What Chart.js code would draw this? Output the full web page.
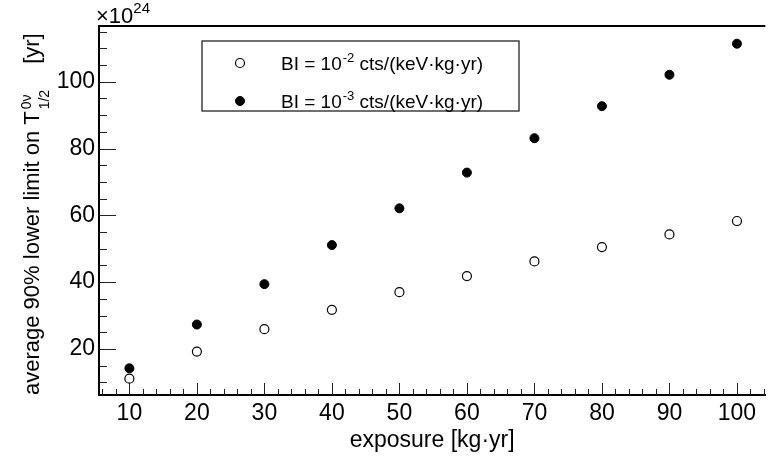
<!DOCTYPE html>
<html>
<head>
<meta charset="utf-8">
<script src="https://cdn.jsdelivr.net/npm/chart.js@4.4.0/dist/chart.umd.min.js"></script>
<style>
  html, body { margin: 0; padding: 0; background: #fff; }
  #wrap { width: 771px; height: 459px; }
</style>
</head>
<body>
<div id="wrap"><canvas id="limitChart" width="771" height="459"></canvas></div>
<script>
// exposure in kg·yr, limits in units of 1e24 yr
const exposure = [10, 20, 30, 40, 50, 60, 70, 80, 90, 100];
const limitBI2 = [11.1, 19.2, 25.9, 31.7, 37.0, 41.8, 46.2, 50.5, 54.3, 58.3];
const limitBI3 = [14.2, 27.3, 39.4, 51.1, 62.1, 72.8, 83.1, 92.7, 102.1, 111.4];
const bgExponents = ['-2', '-3'];
const xTickValues = [10, 20, 30, 40, 50, 60, 70, 80, 90, 100];
const yTickValues = [20, 40, 60, 80, 100];

const FONT = "'Liberation Sans', Arial, Helvetica, sans-serif";
const font = (size) => size + 'px ' + FONT;

function toPoints(ys) {
    return exposure.map((x, i) => ({ x: x, y: ys[i] }));
}

// ROOT-like frame: inward ticks and the top border line
const frameTicks = {
    id: 'frameTicks',
    afterDatasetsDraw(chart) {
        const ctx = chart.ctx;
        const ca = chart.chartArea;
        const xs = chart.scales.x;
        const ys = chart.scales.y;
        ctx.save();
        ctx.strokeStyle = '#222';
        ctx.lineWidth = 1;
        ctx.beginPath();
        for (let v = 6; v <= xs.max; v += 2) {
            const px = Math.round(xs.getPixelForValue(v)) + 0.5;
            const len = v % 10 === 0 ? 12 : 6;
            ctx.moveTo(px, ca.bottom);
            ctx.lineTo(px, ca.bottom - len);
        }
        for (let v = 10; v <= ys.max; v += 5) {
            const py = Math.round(ys.getPixelForValue(v)) + 0.5;
            const len = v % 20 === 0 ? 17 : 8;
            ctx.moveTo(ca.left, py);
            ctx.lineTo(ca.left + len, py);
        }
        ctx.stroke();

        ctx.strokeStyle = '#000';
        ctx.lineWidth = 2;
        ctx.beginPath();
        ctx.moveTo(ca.left - 1, ca.top);
        ctx.lineTo(ca.right, ca.top);
        ctx.stroke();
        ctx.restore();
    }
};

// axis titles, multiplier and legend box (these need super/subscripts)
const annotations = {
    id: 'annotations',
    afterDraw(chart) {
        const ctx = chart.ctx;
        const ca = chart.chartArea;
        ctx.save();
        ctx.fillStyle = '#000';
        ctx.textBaseline = 'alphabetic';

        // x title
        ctx.font = font(23);
        ctx.textAlign = 'center';
        ctx.fillText('exposure [kg\u00b7yr]', (ca.left + ca.right) / 2, 447);

        // multiplier
        ctx.textAlign = 'left';
        ctx.font = font(22);
        ctx.fillText('\u00d710', ca.left - 3, 23);
        const mw = ctx.measureText('\u00d710').width;
        ctx.font = font(15);
        ctx.fillText('24', ca.left - 3 + mw, 13);

        // y title, rotated
        ctx.save();
        ctx.translate(39, ca.bottom);
        ctx.rotate(-Math.PI / 2);
        ctx.font = font(22);
        const main = 'average 90% lower limit on T';
        ctx.fillText(main, 0, 0);
        let x = ctx.measureText(main).width + 2;
        ctx.font = font(14);
        ctx.fillText('0\u03bd', x, -8);
        ctx.fillText('1/2', x, 10);
        x += Math.max(ctx.measureText('0\u03bd').width, ctx.measureText('1/2').width) + 26;
        ctx.font = font(22);
        ctx.fillText('[yr]', x, 0);
        ctx.restore();

        // legend
        const box = { left: 202, top: 41, right: 519, bottom: 111 };
        ctx.strokeStyle = '#222';
        ctx.lineWidth = 1.3;
        ctx.strokeRect(box.left, box.top, box.right - box.left, box.bottom - box.top);
        const rows = [63, 101];
        chart.data.datasets.forEach((ds, i) => {
            const cy = rows[i];
            ctx.beginPath();
            ctx.arc(240, cy, ds.pointRadius, 0, Math.PI * 2);
            ctx.fillStyle = ds.pointBackgroundColor;
            ctx.fill();
            ctx.lineWidth = ds.pointBorderWidth;
            ctx.strokeStyle = ds.pointBorderColor;
            ctx.stroke();

            ctx.fillStyle = '#000';
            let tx = 281;
            const base = cy + 6.5;
            ctx.font = font(19);
            ctx.fillText('BI = 10', tx, base);
            tx += ctx.measureText('BI = 10').width + 1;
            ctx.font = font(13);
            ctx.fillText(bgExponents[i], tx, base - 8);
            tx += ctx.measureText(bgExponents[i]).width;
            ctx.font = font(19);
            ctx.fillText(' cts/(keV\u00b7kg\u00b7yr)', tx, base);
        });
        ctx.restore();
    }
};

const chart = new Chart(document.getElementById('limitChart').getContext('2d'), {
    type: 'scatter',
    data: {
        datasets: [
            {
                label: 'BI = 10^' + bgExponents[0] + ' cts/(keV\u00b7kg\u00b7yr)',
                data: toPoints(limitBI2),
                pointStyle: 'circle',
                pointRadius: 4.5,
                pointBackgroundColor: '#fff',
                pointBorderColor: '#000',
                pointBorderWidth: 1.2
            },
            {
                label: 'BI = 10^' + bgExponents[1] + ' cts/(keV\u00b7kg\u00b7yr)',
                data: toPoints(limitBI3),
                pointStyle: 'circle',
                pointRadius: 4.5,
                pointBackgroundColor: '#000',
                pointBorderColor: '#000',
                pointBorderWidth: 1
            }
        ]
    },
    options: {
        responsive: false,
        animation: false,
        layout: { padding: { top: 26, right: 0, bottom: 0, left: 0 } },
        plugins: {
            legend: { display: false },
            tooltip: { enabled: false }
        },
        scales: {
            x: {
                type: 'linear',
                min: 5.5,
                max: 104.2,
                grid: { display: false, drawTicks: false },
                border: { display: true, color: '#000', width: 2 },
                ticks: {
                    includeBounds: false,
                    color: '#000',
                    font: { family: FONT, size: 23 },
                    padding: 5,
                    maxRotation: 0
                },
                afterBuildTicks: (scale) => { scale.ticks = xTickValues.map(v => ({ value: v })); },
                afterFit: (scale) => { scale.height = 64; }
            },
            y: {
                type: 'linear',
                min: 6.2,
                max: 116.7,
                grid: { display: false, drawTicks: false },
                border: { display: true, color: '#000', width: 2 },
                ticks: {
                    includeBounds: false,
                    color: '#000',
                    font: { family: FONT, size: 23 },
                    padding: 4
                },
                afterBuildTicks: (scale) => { scale.ticks = yTickValues.map(v => ({ value: v })); },
                afterFit: (scale) => { scale.width = 99; }
            }
        }
    },
    plugins: [frameTicks, annotations]
});
</script>
</body>
</html>
